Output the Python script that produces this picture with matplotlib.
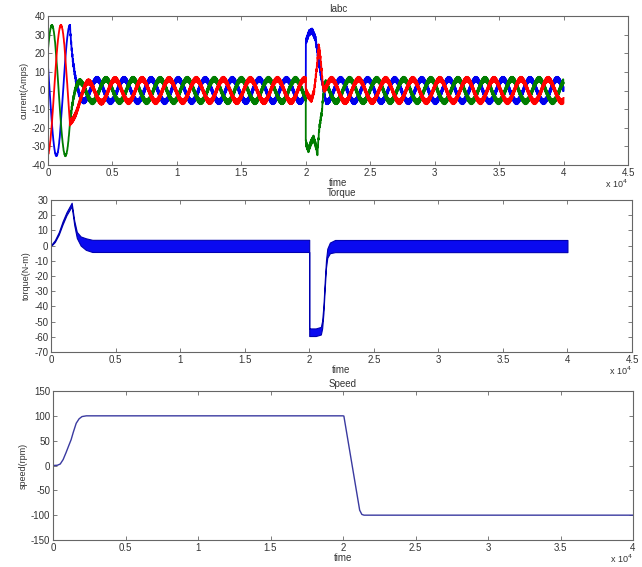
import numpy as np
import matplotlib
matplotlib.use("Agg")
import matplotlib.pyplot as plt

plt.rcParams["font.family"] = ["Liberation Sans", "DejaVu Sans"]
plt.rcParams["axes.unicode_minus"] = False

# sample axis (time in samples, shown as x 10^4)
T_END = 40000
t = np.arange(0, T_END + 1)

# ---- Iabc : three phase currents ----
PHASE_COLORS = ["#0000ee", "#007d00", "#ff0000"]   # blue, green, red
PHASE_PEAK = [1700, 300, 1000]       # time of first startup peak of each phase
PHASE_TAU = [250, 300, 600]          # decay of the offset after the startup switch
PERIOD = 2100
STARTUP_AMP = 35
STEADY_AMP = 6
T_SWITCH = 1700
RIPPLE_PERIOD = 46
RIPPLE_START = 0.3
RIPPLE_STEADY = 1.4

# speed reversal transient (centre values)
REV_T = [
    [20000, 20250, 20500, 20750, 21000, 21200, 21350],
    [20000, 20200, 20400, 20600, 20800, 20900, 21050, 21350, 21500],
    [20000, 20200, 20450, 20650, 20850, 21000, 21100, 21300, 21400],
]
REV_V = [
    [26, 31, 32, 28, 16, 7, 4],
    [-28, -32, -28, -25.5, -30, -33.5, -20, -7, -3],
    [0, -3, -5, 0, 12, 23.5, 20, 5.6, 3],
]

# ---- Torque : band centre and half width ----
TQ_T = [0, 300, 600, 900, 1200, 1600, 1800, 2000, 2300, 2700, 3200,
        19999, 20000, 20500, 20900, 21000, 21100, 21200, 21300, 21400,
        21600, 22000, 40000]
TQ_C = [0, 3, 8, 15, 21, 27, 15, 7, 3, 1, -0.2,
        -0.2, -57, -57, -56, -52, -42, -26, -12, -5,
        -1.5, -0.3, -0.3]
TQ_H = [0.3, 0.6, 0.8, 1.0, 1.0, 1.2, 1.5, 2.0, 3.0, 3.8, 4.0,
        4.0, 2.5, 2.5, 2.5, 2.5, 2.5, 2.5, 2.5, 3.0,
        3.5, 4.0, 4.0]

# ---- Speed ----
SP_T = [0, 300, 500, 700, 900, 1100, 1250, 1400, 1600, 1800, 2000, 2300,
        20000, 20060, 21150, 21300, 21450, 40000]
SP_V = [0, 0.5, 3, 12, 26, 41, 52, 67, 85, 94, 98.5, 100,
        100, 99.5, -90, -98.5, -100, -100]

XTICKS_45 = [0, 5000, 10000, 15000, 20000, 25000, 30000, 35000, 40000, 45000]
XLABELS_45 = ["0", "0.5", "1", "1.5", "2", "2.5", "3", "3.5", "4", "4.5"]
XTICKS_40 = XTICKS_45[:-1]
XLABELS_40 = XLABELS_45[:-1]

TXT = "#333333"
EDGE = "#666666"


def phase_current(k):
    ph = 2 * np.pi * (t - PHASE_PEAK[k]) / PERIOD
    big = STARTUP_AMP * np.cos(ph)
    small = STEADY_AMP * np.cos(ph)
    i = np.where(t < T_SWITCH, big, small)
    after = t >= T_SWITCH
    d = big[T_SWITCH] - small[T_SWITCH]
    i[after] += d * np.exp(-(t[after] - T_SWITCH) / PHASE_TAU[k])
    rip = np.sin(2 * np.pi * t / RIPPLE_PERIOD + 2.1 * k)
    amp = np.where(t < T_SWITCH, RIPPLE_START, RIPPLE_STEADY)
    i = i + amp * rip
    # reversal transient, blended back into steady state
    w = np.clip((21550 - t) / 300, 0, 1) * (t >= 20000)
    trans = np.interp(t, REV_T[k], REV_V[k]) + RIPPLE_STEADY * rip
    return w * trans + (1 - w) * i


def style(ax, xmax, xticks, xlabels, ylim, ystep, ylabel, title):
    ax.set_xlim(0, xmax)
    ax.set_ylim(*ylim)
    ax.set_xticks(xticks)
    ax.set_xticklabels(xlabels)
    ax.set_yticks(np.arange(ylim[0], ylim[1] + 1, ystep))
    ax.tick_params(direction="in", top=True, right=True, length=3, width=0.6,
                   labelsize=7, labelcolor=TXT, color=EDGE, pad=2)
    for s in ax.spines.values():
        s.set_color(EDGE)
        s.set_linewidth(0.8)
    ax.set_ylabel(ylabel, fontsize=6.5, color=TXT, labelpad=2)
    ax.set_xlabel("time", fontsize=7, color=TXT, labelpad=0.5)
    ax.set_title(title, fontsize=7, color=TXT, pad=3)
    ax.text(1.0, -0.125, r"x 10$^4$", transform=ax.transAxes, ha="right",
            va="center", fontsize=6.5, color=TXT)


fig = plt.figure(figsize=(6.42, 5.67), dpi=100)
ax1 = fig.add_axes([48 / 642, 1 - 165 / 567, 580 / 642, 149 / 567])
ax2 = fig.add_axes([51 / 642, 1 - 352 / 567, 581 / 642, 152 / 567])
ax3 = fig.add_axes([53 / 642, 1 - 540 / 567, 580 / 642, 149 / 567])

for k, c in enumerate(PHASE_COLORS):
    ax1.plot(t, phase_current(k), color=c, lw=1.3)
style(ax1, 45000, XTICKS_45, XLABELS_45, (-40, 40), 10, "current(Amps)", "Iabc")

ax2.fill_between(TQ_T, np.subtract(TQ_C, TQ_H), np.add(TQ_C, TQ_H),
                 color="#0a0af0", edgecolor="#0000b0", lw=0.8)
style(ax2, 45000, XTICKS_45, XLABELS_45, (-70, 30), 10, "torque(N-m)", "Torque")

ax3.plot(SP_T, SP_V, color="#3a3aa0", lw=1.0)
style(ax3, 40000, XTICKS_40, XLABELS_40, (-150, 150), 50, "speed(rpm)", "Speed")

fig.savefig("out.png", dpi=100)
